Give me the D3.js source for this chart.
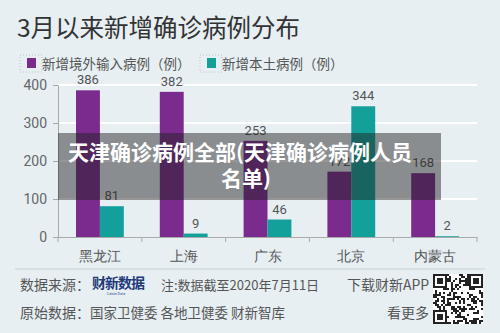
<!DOCTYPE html>
<html>
<head>
<meta charset="utf-8">
<script src="https://cdn.jsdelivr.net/npm/d3@7"></script>
<style>
  body { margin: 0; background: #e7eff3; }
  svg { display: block; font-family: "Noto Sans CJK SC", "Noto Sans", sans-serif; }
</style>
</head>
<body>
<div id="chart-area"></div>
<script>
// data
var provinces = ["黑龙江", "上海", "广东", "北京", "内蒙古"];
var seriesNames = ["新增境外输入病例（例）", "新增本土病例（例）"];
var imported = [386, 382, 253, 172, 168];
var local = [81, 9, 46, 344, 2];
var yTicks = [0, 100, 200, 300, 400];
var colors = ["#7b2b8d", "#13a09b"];

var W = 500, H = 333;
var svg = d3.select("#chart-area").append("svg")
    .attr("width", W).attr("height", H);

svg.append("rect").attr("width", W).attr("height", H).attr("fill", "#e7eff3");

// title
svg.append("text").attr("x", 17).attr("y", 37)
    .attr("font-size", 24.5).attr("fill", "#333")
    .text("3月以来新增确诊病例分布");

// legend
var legendX = [27, 207];
seriesNames.forEach(function(name, i) {
    svg.append("rect").attr("x", legendX[i] - 7).attr("y", 55)
        .attr("width", 22).attr("height", 17)
        .attr("fill", "none").attr("stroke", "#b8c2c8")
        .attr("stroke-dasharray", "1,2");
    svg.append("rect").attr("x", legendX[i]).attr("y", 58)
        .attr("width", 9).attr("height", 10).attr("fill", colors[i]);
    svg.append("text").attr("x", legendX[i] + 15).attr("y", 69)
        .attr("font-size", 13.5).attr("fill", "#555").text(name);
});

var x = d3.scaleBand().domain(provinces).range([58, 477]);
var x1 = d3.scaleBand().domain([0, 1]).range([18, x.bandwidth() - 18]);
var y = d3.scaleLinear().domain([0, 400]).range([237, 85]);

// gridlines
svg.selectAll(".grid").data(yTicks.slice(1)).enter().append("line")
    .attr("x1", 58).attr("x2", 477)
    .attr("y1", function(d) { return y(d); }).attr("y2", function(d) { return y(d); })
    .attr("stroke", "#fff").attr("stroke-width", 2);

// y axis
var yAxis = svg.append("g").attr("transform", "translate(58,0)")
    .call(d3.axisLeft(y).tickValues(yTicks).tickSize(5).tickPadding(6));
yAxis.select(".domain").attr("stroke", "#aaa");
yAxis.selectAll(".tick line").attr("stroke", "#aaa");
yAxis.selectAll(".tick text").attr("font-size", 14).attr("fill", "#666")
    .attr("font-family", "Roboto, 'Noto Sans', sans-serif");

// bars
var rows = provinces.map(function(p, i) { return { name: p, vals: [imported[i], local[i]] }; });
var groups = svg.selectAll(".grp").data(rows).enter().append("g")
    .attr("transform", function(d) { return "translate(" + x(d.name) + ",0)"; });

groups.selectAll("rect").data(function(d) { return d.vals; }).enter().append("rect")
    .attr("x", function(d, i) { return x1(i); })
    .attr("y", function(d) { return y(d); })
    .attr("width", x1.bandwidth())
    .attr("height", function(d) { return y(0) - y(d); })
    .attr("fill", function(d, i) { return colors[i]; });

groups.selectAll("text").data(function(d) { return d.vals; }).enter().append("text")
    .attr("x", function(d, i) { return x1(i) + x1.bandwidth() / 2; })
    .attr("y", function(d) { return y(d) - 6; })
    .attr("text-anchor", "middle").attr("font-size", 13).attr("fill", "#555")
    .attr("font-family", "Roboto, 'Noto Sans', sans-serif")
    .text(function(d) { return d; });

// x axis
var xAxis = svg.append("g").attr("transform", "translate(0,237)")
    .call(d3.axisBottom(x).tickSize(0).tickPadding(14));
xAxis.select(".domain").attr("stroke", "#aaa");
xAxis.selectAll(".tick text").attr("font-size", 13.5).attr("fill", "#555");
svg.selectAll(".bnd").data(provinces.concat(["end"])).enter().append("line")
    .attr("x1", function(d, i) { return 58 + i * x.step(); })
    .attr("x2", function(d, i) { return 58 + i * x.step(); })
    .attr("y1", 237).attr("y2", 242).attr("stroke", "#aaa");

// footer
svg.append("line").attr("x1", 15).attr("x2", 485).attr("y1", 269).attr("y2", 269)
    .attr("stroke", "#c9d2d7");
function ft(tx, xx, yy) {
    return svg.append("text").attr("x", xx).attr("y", yy)
        .attr("font-size", 14).attr("fill", "#555").text(tx);
}
ft("数据来源：", 20, 290);
ft("注:数据截至2020年7月11日", 161, 290).attr("font-size", 13);
ft("下载财新APP", 347, 290);
ft("原始数据：", 20, 318);
ft("国家卫健委 各地卫健委 财新智库", 90, 318).attr("font-size", 13.5);
ft("看更多", 387, 318);
svg.append("text").attr("x", 92).attr("y", 288).attr("font-size", 14)
    .attr("font-weight", "bold").attr("fill", "#23397a").attr("letter-spacing", -1)
    .text("财新数据");
svg.append("text").attr("x", 116).attr("y", 295).attr("font-size", 3.5)
    .attr("text-anchor", "middle").attr("fill", "#23397a").text("Caixin Data");

// qr-like code
var qr = svg.append("g").attr("transform", "translate(433,274)");
var n = 25, c = 2;
qr.append("rect").attr("width", n * c).attr("height", n * c).attr("fill", "#fff");
for (var i = 0; i < n; i++) {
    for (var j = 0; j < n; j++) {
        var h = ((i * 73 + j * 151 + i * j * 37) ^ (i * 11 + j * 5)) % 7;
        if (h < 3) qr.append("rect").attr("x", i * c).attr("y", j * c)
            .attr("width", c).attr("height", c).attr("fill", "#222");
    }
}
[[0, 0], [n - 7, 0], [0, n - 7]].forEach(function(p) {
    qr.append("rect").attr("x", p[0] * c).attr("y", p[1] * c).attr("width", 7 * c).attr("height", 7 * c).attr("fill", "#222");
    qr.append("rect").attr("x", (p[0] + 1) * c).attr("y", (p[1] + 1) * c).attr("width", 5 * c).attr("height", 5 * c).attr("fill", "#fff");
    qr.append("rect").attr("x", (p[0] + 2) * c).attr("y", (p[1] + 2) * c).attr("width", 3 * c).attr("height", 3 * c).attr("fill", "#222");
});

// overlay caption
svg.append("rect").attr("x", 58).attr("y", 133).attr("width", 383).attr("height", 67)
    .attr("fill", "rgba(31,31,31,0.47)");
svg.append("text").attr("x", 240).attr("y", 160).attr("text-anchor", "middle")
    .attr("font-size", 21).attr("font-weight", "bold").attr("fill", "#fff")
    .text("天津确诊病例全部(天津确诊病例人员");
svg.append("text").attr("x", 246).attr("y", 186).attr("text-anchor", "middle")
    .attr("font-size", 21).attr("font-weight", "bold").attr("fill", "#fff")
    .text("名单)");
</script>
</body>
</html>
